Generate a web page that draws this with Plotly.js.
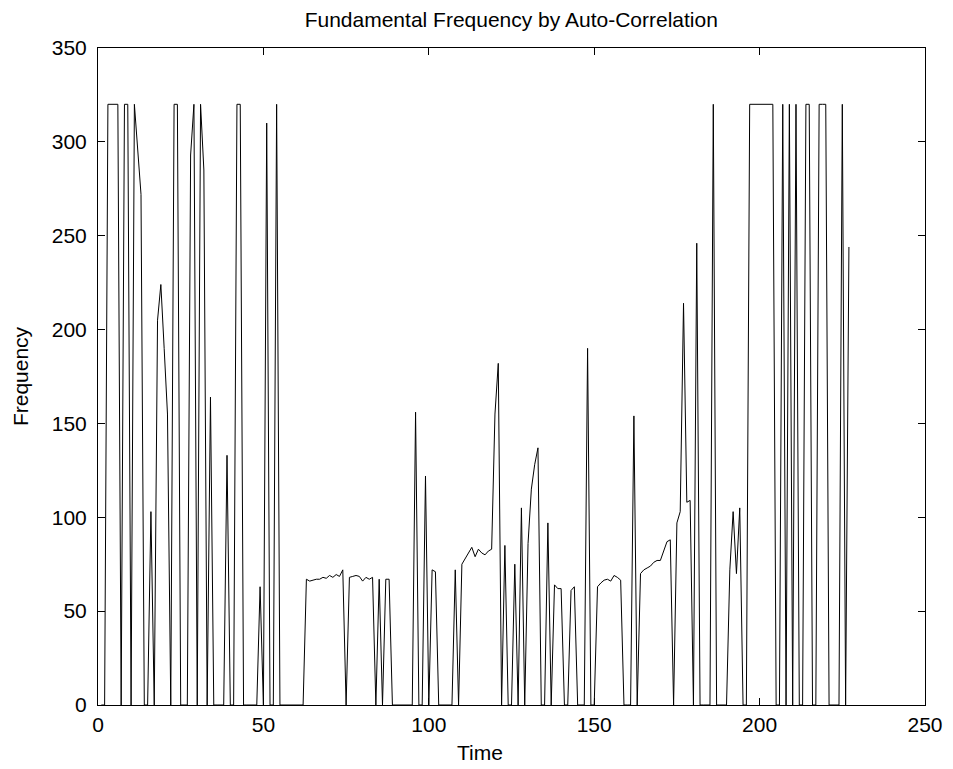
<!DOCTYPE html>
<html>
<head>
<meta charset="utf-8">
<script src="https://cdn.plot.ly/plotly-3.0.1.min.js"></script>
<style>
  html, body { margin: 0; padding: 0; background: #ffffff; }
  #chart { width: 953px; height: 769px; }
</style>
</head>
<body>
<div id="chart"></div>
<script>
// Fundamental frequency estimate per frame (frames 1..227)
const frequency = [
  0, 0, 320, 320, 320, 320, 0, 320, 320, 0,          // 1-10
  320, 297, 272, 0, 0, 103, 0, 205, 224, 190,        // 11-20
  155, 0, 320, 320, 0, 0, 0, 293, 320, 0,            // 21-30
  320, 285, 0, 164, 0, 0, 0, 0, 133, 0,              // 31-40
  0, 320, 320, 0, 0, 0, 0, 0, 63, 0,                 // 41-50
  310, 0, 0, 320, 0, 0, 0, 0, 0, 0,                  // 51-60
  0, 0, 67, 66, 66.5, 67, 67, 68, 67.5, 69,          // 61-70
  68, 69.5, 68.5, 72, 0, 68, 68.5, 69, 68.5, 66,     // 71-80
  68, 67, 68, 0, 67, 0, 67, 67, 0, 0,                // 81-90
  0, 0, 0, 0, 0, 156, 0, 0, 122, 0,                  // 91-100
  72, 71, 0, 0, 0, 0, 0, 72, 0, 75,                  // 101-110
  78, 81, 84, 79, 83, 81, 80, 82, 83, 155,           // 111-120
  182, 0, 85, 0, 0, 75, 0, 105, 0, 86,               // 121-130
  115, 128, 137, 0, 0, 97, 0, 64, 62, 62,            // 131-140
  0, 0, 61, 63, 0, 0, 0, 190, 0, 0,                  // 141-150
  63, 65, 66.5, 67, 66, 69, 68, 66.5, 0, 0,          // 151-160
  0, 154, 0, 70, 72, 73, 74, 76, 77, 77,             // 161-170
  82, 87, 88, 0, 97, 103, 214, 108, 109, 0,          // 171-180
  246, 0, 0, 0, 0, 320, 0, 0, 0, 0,                  // 181-190
  72, 103, 70, 105, 0, 0, 320, 320, 320, 320,        // 191-200
  320, 320, 320, 320, 0, 0, 320, 0, 320, 0,          // 201-210
  320, 0, 0, 320, 320, 0, 0, 320, 320, 320,          // 211-220
  0, 0, 0, 0, 320, 0, 244                            // 221-227
];
const time = frequency.map((_, i) => i + 1);

const xTicks = [0, 50, 100, 150, 200, 250];
const yTicks = [0, 50, 100, 150, 200, 250, 300, 350];

const chartTitle = 'Fundamental Frequency by Auto-Correlation';
const xLabel = 'Time';
const yLabel = 'Frequency';

const fontFamily = '"Liberation Sans", Arial, Helvetica, sans-serif';
const fs = 21;

const trace = {
  x: time,
  y: frequency,
  type: 'scatter',
  mode: 'lines',
  line: { color: '#000000', width: 1 },
  hoverinfo: 'x+y'
};

const axisCommon = {
  showgrid: false,
  zeroline: false,
  showline: true,
  linecolor: '#000000',
  linewidth: 1,
  mirror: 'allticks',
  ticks: 'inside',
  ticklen: 7,
  tickwidth: 1,
  tickcolor: '#000000',
  tickmode: 'array',
  tickfont: { family: fontFamily, size: fs, color: '#000000' }
};

const layout = {
  width: 953,
  height: 769,
  paper_bgcolor: '#ffffff',
  plot_bgcolor: '#ffffff',
  margin: { l: 98, r: 28, t: 48, b: 64 },
  showlegend: false,
  font: { family: fontFamily, size: fs, color: '#000000' },
  title: {
    text: chartTitle,
    font: { family: fontFamily, size: fs, color: '#000000' },
    x: 0.5365,
    xanchor: 'center',
    y: 0.974,
    yanchor: 'middle'
  },
  xaxis: Object.assign({}, axisCommon, {
    range: [0, 250],
    tickvals: xTicks,
    ticktext: xTicks.map(String),
    ticklabelstandoff: 1
  }),
  yaxis: Object.assign({}, axisCommon, {
    range: [0, 350],
    tickvals: yTicks,
    ticktext: yTicks.map(String),
    ticklabelstandoff: 6,
    title: { text: yLabel, font: { family: fontFamily, size: fs, color: '#000000' }, standoff: 17 }
  }),
  annotations: [{
    text: xLabel,
    xref: 'paper', yref: 'paper',
    x: 0.462, y: 0,
    xanchor: 'center', yanchor: 'middle',
    yshift: -47,
    showarrow: false,
    font: { family: fontFamily, size: fs, color: '#000000' }
  }]
};

Plotly.newPlot('chart', [trace], layout, { displayModeBar: false, staticPlot: true });
</script>
</body>
</html>
